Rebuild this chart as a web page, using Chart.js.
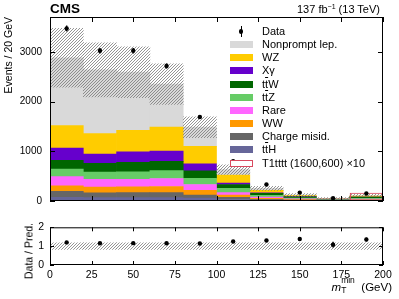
<!DOCTYPE html>
<html>
<head>
<meta charset="utf-8">
<script src="https://cdn.jsdelivr.net/npm/chart.js@4.4.1/dist/chart.umd.min.js"></script>
<style>
body { margin: 0; background: #fff; }
#wrap { position: relative; width: 399px; height: 299px; overflow: hidden; font-family: "Liberation Sans", Arial, Helvetica, sans-serif; color: #000; }
#main { position: absolute; left: 0; top: 0; }
#ratio { position: absolute; left: 0; top: 215px; }
.txt { position: absolute; white-space: nowrap; line-height: 1; }
#cms { left: 50px; top: 2px; font-size: 13.5px; font-weight: bold; }
#lumi { right: 19px; top: 3px; font-size: 11px; }
#lumi sup { font-size: 7px; vertical-align: 4px; }
#ytitle2 { left: 24px; top: 223px; font-size: 10.5px; writing-mode: vertical-rl; transform: rotate(180deg); }
#xtitle { right: 7px; top: 281px; font-size: 11.5px; }
.ss { display: inline-block; position: relative; width: 17px; height: 10px; }
.ss .sup { position: absolute; left: 0; top: -5px; font-size: 8.5px; }
.ss .sub { position: absolute; left: 0; top: 5px; font-size: 8.5px; }
.leg { position: absolute; left: 230px; height: 13px; font-size: 11px; line-height: 13px; white-space: nowrap; }
.leg .sw { position: absolute; left: 0; top: 3px; width: 23px; height: 7px; }
.leg .lab { position: absolute; left: 32px; top: 0; }
.ol { text-decoration: overline; }
</style>
</head>
<body>
<div id="wrap">
  <canvas id="main" width="399" height="215"></canvas>
  <canvas id="ratio" width="399" height="84"></canvas>
  <div class="txt" id="cms">CMS</div>
  <div class="txt" id="lumi">137 fb<sup>&minus;1</sup> (13 TeV)</div>
  <div class="txt" id="ytitle2">Data / Pred.</div>
  <div class="txt" id="xtitle"><i>m</i><span class="ss"><span class="sup">min</span><span class="sub">T</span></span> (GeV)</div>
  <div id="legend"></div>
</div>
<script>
// bin centres of the 20 GeV bins
const bins = [10, 30, 50, 70, 90, 110, 130, 150, 170, 190];

// background yields, listed bottom of the stack first
const ttH      = [75, 67, 67, 67, 58, 30, 15, 10, 4, 9];
const chargeMis = [121, 96, 102, 102, 61, 43, 20, 10, 4, 8];
const ww       = [108, 116, 116, 123, 96, 46, 20, 10, 4, 8];
const rare     = [186, 159, 153, 160, 116, 50, 25, 12, 6, 12];
const ttZ      = [154, 143, 149, 160, 127, 85, 35, 15, 7, 18];
const ttW      = [173, 179, 192, 186, 148, 77, 40, 25, 10, 22];
const xGamma   = [245, 186, 211, 206, 140, 31, 10, 5, 2, 4];
const wz       = [453, 410, 429, 481, 354, 161, 50, 20, 8, 18];
const nonprompt = [1365, 1282, 1171, 865, 385, 108, 40, 15, 5, 12];

// total prediction and its uncertainty
const totalPred = [2880, 2638, 2590, 2350, 1485, 631, 255, 122, 50, 111];
const predUnc   = [590, 545, 510, 410, 210, 95, 40, 25, 19, 23];

// signal T1tttt (1600,600) x10
const signal = [6, 6, 8, 8, 10, 12, 15, 18, 22, 168];

// observed data
const dataObs = [3470, 3020, 3020, 2715, 1690, 800, 331, 169, 54, 150];
const dataErr = [59, 55, 55, 52, 41, 28, 18, 13, 7, 12];

// ratio panel
const ratioVals = [1.2, 1.15, 1.16, 1.15, 1.14, 1.25, 1.3, 1.38, 1.08, 1.35];
const ratioErr  = [0.02, 0.02, 0.02, 0.02, 0.03, 0.05, 0.07, 0.1, 0.15, 0.1];
const ratioUnc  = [0.17, 0.17, 0.17, 0.17, 0.17, 0.17, 0.17, 0.17, 0.17, 0.17];

const xTicks = [0, 25, 50, 75, 100, 125, 150, 175, 200];
const yTicksMain = [0, 1000, 2000, 3000];
const yTicksRatio = [0, 1, 2];

const FONT = '"Liberation Sans", Arial, Helvetica, sans-serif';
Chart.defaults.font.family = FONT;
Chart.defaults.color = '#000';

// diagonal hatch used for the uncertainty bands
function makeHatch(color) {
    const c = document.createElement('canvas');
    c.width = 3; c.height = 3;
    const g = c.getContext('2d');
    g.strokeStyle = color;
    g.lineWidth = 0.8;
    g.beginPath();
    g.moveTo(0, 3); g.lineTo(3, 0);
    g.moveTo(-1, 1); g.lineTo(1, -1);
    g.moveTo(2, 4); g.lineTo(4, 2);
    g.stroke();
    return g.createPattern(c, 'repeat');
}
const hatch = makeHatch('#7a7a7a');

const backgrounds = [
    { label: 'ttH', values: ttH, color: '#666699' },
    { label: 'Charge misid.', values: chargeMis, color: '#666666' },
    { label: 'WW', values: ww, color: '#ff9900' },
    { label: 'Rare', values: rare, color: '#ff66ff' },
    { label: 'ttZ', values: ttZ, color: '#66cc66' },
    { label: 'ttW', values: ttW, color: '#006600' },
    { label: 'Xgamma', values: xGamma, color: '#6600cc' },
    { label: 'WZ', values: wz, color: '#ffcc00' },
    { label: 'Nonprompt lep.', values: nonprompt, color: '#d9d9d9' }
];

const barCommon = { grouped: false, barPercentage: 1, categoryPercentage: 1, borderWidth: 0 };

const mainDatasets = backgrounds.map(b => Object.assign({
    type: 'bar',
    label: b.label,
    data: bins.map((x, i) => ({ x: x, y: b.values[i] })),
    backgroundColor: b.color,
    stack: 'bkg',
    order: 4
}, barCommon));

mainDatasets.push(Object.assign({
    type: 'bar',
    label: 'unc',
    data: bins.map((x, i) => ({ x: x, y: [totalPred[i] - predUnc[i], totalPred[i] + predUnc[i]] })),
    backgroundColor: hatch,
    stack: 'unc',
    order: 3
}, barCommon));

mainDatasets.push(Object.assign({}, barCommon, {
    type: 'bar',
    label: 'T1tttt',
    data: bins.map((x, i) => ({ x: x, y: signal[i] })),
    backgroundColor: 'rgba(0,0,0,0)',
    borderColor: '#d94a5f',
    borderWidth: 1.2,
    inflateAmount: 0,
    stack: 'sig',
    order: 2
}));

mainDatasets.push({
    type: 'scatter',
    label: 'Data',
    data: bins.map((x, i) => ({ x: x, y: dataObs[i] })),
    errors: dataErr,
    backgroundColor: '#000',
    borderColor: '#000',
    pointRadius: 2.2,
    pointBorderWidth: 0,
    stack: 'data',
    order: 1
});

// black frame with inward ticks on all four sides
const framePlugin = {
    id: 'frame',
    afterDraw(chart, args, opts) {
        const { ctx, chartArea: a, scales } = chart;
        ctx.save();
        ctx.strokeStyle = '#000';
        ctx.lineWidth = 1;
        ctx.strokeRect(a.left + 0.5, a.top + 0.5, a.right - a.left - 1, a.bottom - a.top - 1);
        ctx.beginPath();
        opts.xTicks.forEach(v => {
            const x = Math.round(scales.x.getPixelForValue(v)) + 0.5;
            ctx.moveTo(x, a.bottom); ctx.lineTo(x, a.bottom - opts.len);
            ctx.moveTo(x, a.top); ctx.lineTo(x, a.top + opts.len);
        });
        opts.yTicks.forEach(v => {
            const y = Math.round(scales.y.getPixelForValue(v)) + 0.5;
            ctx.moveTo(a.left, y); ctx.lineTo(a.left + opts.len, y);
            ctx.moveTo(a.right, y); ctx.lineTo(a.right - opts.len, y);
        });
        ctx.stroke();
        ctx.restore();
    }
};

// vertical error bars on the data points
const errorBars = {
    id: 'errorBars',
    afterDatasetsDraw(chart) {
        const { ctx } = chart;
        chart.data.datasets.forEach((ds, i) => {
            if (!ds.errors) return;
            const meta = chart.getDatasetMeta(i);
            const yScale = chart.scales[meta.yAxisID];
            ctx.save();
            ctx.strokeStyle = '#000';
            ctx.lineWidth = 1.4;
            meta.data.forEach((pt, j) => {
                const v = ds.data[j].y, e = ds.errors[j];
                ctx.beginPath();
                ctx.moveTo(pt.x, yScale.getPixelForValue(v - e));
                ctx.lineTo(pt.x, yScale.getPixelForValue(v + e));
                ctx.stroke();
            });
            ctx.restore();
        });
    }
};

const fixTicks = list => scale => { scale.ticks = list.map(v => ({ value: v })); };
const plainLabel = v => String(v);

new Chart(document.getElementById('main'), {
    type: 'bar',
    data: { datasets: mainDatasets },
    options: {
        responsive: false,
        animation: false,
        layout: { padding: { top: 17, right: 16, bottom: 5, left: 0 } },
        plugins: {
            legend: { display: false },
            tooltip: { enabled: false },
            frame: { xTicks: xTicks, yTicks: yTicksMain, len: 5 }
        },
        scales: {
            x: { type: 'linear', min: 0, max: 200, offset: false, display: false },
            y: {
                stacked: true,
                min: 0,
                max: 3700,
                grid: { display: false, drawTicks: false },
                border: { display: false },
                ticks: { padding: 8, font: { size: 10 }, callback: plainLabel },
                afterBuildTicks: fixTicks(yTicksMain),
                title: {
                    display: true,
                    text: 'Events / 20 GeV',
                    align: 'end',
                    font: { size: 10.5 },
                    padding: { top: 3, bottom: 0 }
                },
                afterFit: s => { s.width = 50; }
            }
        }
    },
    plugins: [framePlugin, errorBars]
});

const ratioDatasets = [
    Object.assign({
        type: 'bar',
        label: 'unc',
        data: bins.map((x, i) => ({ x: x, y: [1 - ratioUnc[i], 1 + ratioUnc[i]] })),
        backgroundColor: hatch,
        order: 2
    }, barCommon),
    {
        type: 'scatter',
        label: 'Data',
        data: bins.map((x, i) => ({ x: x, y: ratioVals[i] })),
        errors: ratioErr,
        backgroundColor: '#000',
        pointRadius: 2.2,
        pointBorderWidth: 0,
        order: 1
    }
];

new Chart(document.getElementById('ratio'), {
    type: 'bar',
    data: { datasets: ratioDatasets },
    options: {
        responsive: false,
        animation: false,
        layout: { padding: { top: 8, right: 16, bottom: 0, left: 0 } },
        plugins: {
            legend: { display: false },
            tooltip: { enabled: false },
            frame: { xTicks: xTicks, yTicks: yTicksRatio, len: 4 }
        },
        scales: {
            x: {
                type: 'linear',
                min: 0,
                max: 200,
                offset: false,
                grid: { display: false, drawTicks: false },
                border: { display: false },
                ticks: { autoSkip: false, maxRotation: 0, padding: 4, font: { size: 10.5 }, callback: plainLabel },
                afterBuildTicks: fixTicks(xTicks),
                afterFit: s => { s.height = 34; }
            },
            y: {
                min: 0,
                max: 2,
                grid: { display: false, drawTicks: false },
                border: { display: false },
                ticks: { padding: 6, font: { size: 10.5 }, callback: plainLabel },
                afterBuildTicks: fixTicks(yTicksRatio),
                afterFit: s => { s.width = 50; }
            }
        }
    },
    plugins: [framePlugin, errorBars]
});

// legend, same order as the reference
const legendRows = [
    { html: 'Data', kind: 'data' },
    { html: 'Nonprompt lep.', color: '#d9d9d9' },
    { html: 'WZ', color: '#ffcc00' },
    { html: 'X&gamma;', color: '#6600cc' },
    { html: 't<span class="ol">t</span>W', color: '#006600' },
    { html: 't<span class="ol">t</span>Z', color: '#66cc66' },
    { html: 'Rare', color: '#ff66ff' },
    { html: 'WW', color: '#ff9900' },
    { html: 'Charge misid.', color: '#666666' },
    { html: 't<span class="ol">t</span>H', color: '#666699' },
    { html: 'T1tttt (1600,600) &times;10', kind: 'signal' }
];
const legend = document.getElementById('legend');
legendRows.forEach((r, i) => {
    const row = document.createElement('div');
    row.className = 'leg';
    row.style.top = (25 + i * 13.15) + 'px';
    let sw;
    if (r.kind === 'data') {
        sw = '<div style="position:absolute;left:10.5px;top:1px;width:1.4px;height:11px;background:#000"></div>' +
             '<div style="position:absolute;left:9px;top:4.3px;width:4.4px;height:4.4px;border-radius:50%;background:#000"></div>';
    } else if (r.kind === 'signal') {
        sw = '<div class="sw" style="box-sizing:border-box;border:1.2px solid #d94a5f;background:#fff"></div>';
    } else {
        sw = '<div class="sw" style="background:' + r.color + '"></div>';
    }
    row.innerHTML = sw + '<div class="lab">' + r.html + '</div>';
    legend.appendChild(row);
});
</script>
</body>
</html>
